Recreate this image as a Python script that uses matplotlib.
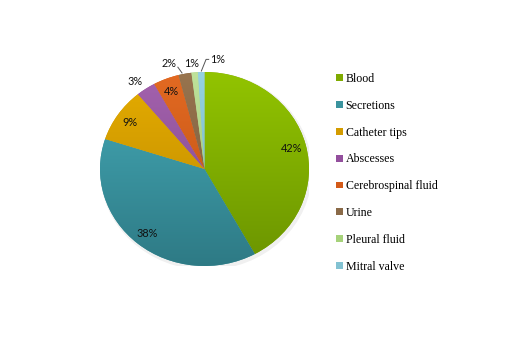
import numpy as np
import matplotlib
matplotlib.use("Agg")
import matplotlib.pyplot as plt
from matplotlib.patches import Patch
from matplotlib.colors import LinearSegmentedColormap

# data (percent)
sources = ["Blood", "Secretions", "Catheter tips", "Abscesses",
           "Cerebrospinal fluid", "Urine", "Pleural fluid", "Mitral valve"]
shares = [42, 38, 9, 3, 4, 2, 1, 1]
pct_labels = ["42%", "38%", "9%", "3%", "4%", "2%", "1%", "1%"]

# light (top) / dark (bottom) colour of each slice
top_cols = ["#92c400", "#45abb8", "#e6ad00", "#a462ae", "#e36a22", "#98744e", "#bfe29a", "#96d2e2"]
bot_cols = ["#6b9400", "#2e7a85", "#b98600", "#7d4688", "#b84e12", "#74563a", "#93bb6c", "#6aaebf"]
legend_cols = ["#7fab00", "#3a939e", "#d49c00", "#934f9d", "#d35a18", "#8a6a48", "#a6d27a", "#82c2d2"]

fig = plt.figure(figsize=(5.2, 3.38), dpi=100)
W, H = 520, 338
# pie box in pixels: x 100..309, y 72..266 (slightly wider than tall)
ax = fig.add_axes([100 / W, (H - 266) / H, 209 / W, 194 / H])

wedges, _ = ax.pie(shares, startangle=90, counterclock=False, radius=1,
                   colors=legend_cols, wedgeprops=dict(linewidth=0))
ax.set_aspect("auto")
ax.set_xlim(-1, 1)
ax.set_ylim(-1, 1)
ax.axis("off")

# faint shadow behind the pie
sh = matplotlib.patches.Ellipse((0.015, -0.02), 2.03, 2.04, color="#000000", alpha=0.06,
                                zorder=0, linewidth=0)
ax.add_patch(sh)

# vertical gradient inside every slice
grad = np.linspace(0, 1, 256).reshape(-1, 1)
for w, c1, c2 in zip(wedges, top_cols, bot_cols):
    cmap = LinearSegmentedColormap.from_list("g", [c1, c2])
    im = ax.imshow(grad, extent=(-1, 1, -1, 1), origin="upper", cmap=cmap,
                   aspect="auto", zorder=2)
    im.set_clip_path(w)
    w.set_zorder(1)

# percentage labels inside the big slices
inner = [0, 1, 2, 4]
for i in inner:
    w = wedges[i]
    mid = np.deg2rad((w.theta1 + w.theta2) / 2)
    r = 0.86
    ax.text(r * np.cos(mid), r * np.sin(mid), pct_labels[i], ha="center", va="center",
            fontsize=7.8, family="Lato", color="#111111", zorder=5)

# outer labels (positions in data units)
outer = {3: (-0.66, 0.90), 5: (-0.34, 1.09), 6: (-0.12, 1.09), 7: (0.13, 1.13)}
for i, (tx, ty) in outer.items():
    ax.text(tx, ty, pct_labels[i], ha="center", va="center", fontsize=7.8,
            family="Lato", color="#111111", zorder=5, clip_on=False)

# leader lines for the two tiny slices
for i, xs, ys in [(5, [-0.255, -0.215], [1.05, 0.99]),
                  (7, [0.04, 0.015, -0.03], [1.13, 1.13, 1.01])]:
    ax.plot(xs, ys, color="#555555", linewidth=0.7, zorder=5, clip_on=False)

handles = [Patch(facecolor=c, edgecolor="none") for c in legend_cols]
fig.legend(handles, sources, loc="upper left", bbox_to_anchor=(336 / W, 1 - 73 / H),
           frameon=False, prop={"family": "Liberation Serif", "size": 8.6},
           handlelength=0.55, handleheight=0.5, handletextpad=0.25, labelspacing=1.24,
           borderaxespad=0, borderpad=0)

fig.savefig("out.png", dpi=100, facecolor="white")
